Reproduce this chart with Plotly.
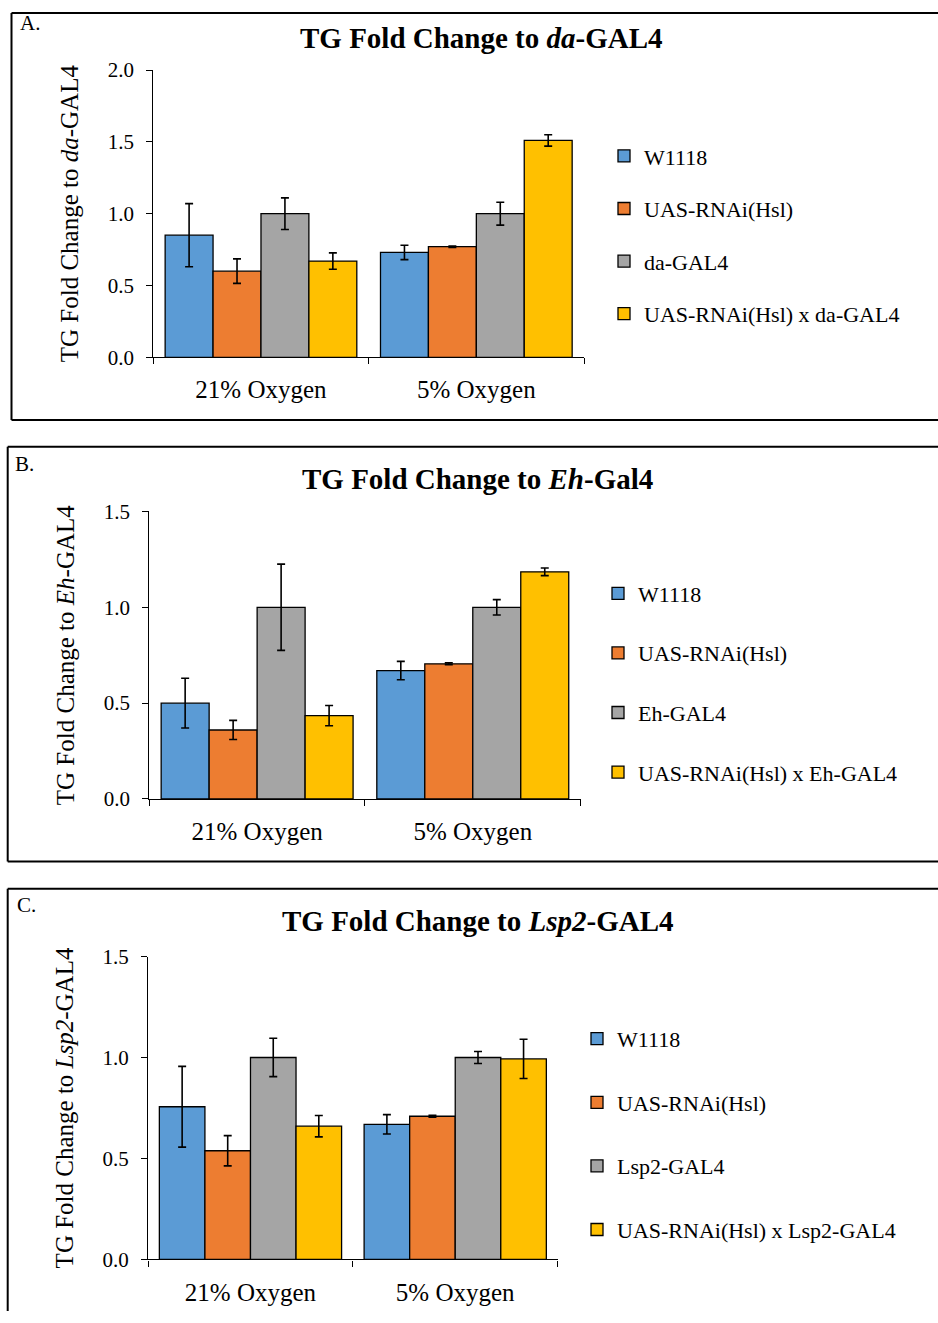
import plotly.graph_objects as go

W, H = 938, 1323
FONT = "Liberation Serif"

categories = ["21% Oxygen", "5% Oxygen"]
colors = ["#5B9BD5", "#ED7D31", "#A5A5A5", "#FFC000"]

# Panel A (da-GAL4)
a_names = ["W1118", "UAS-RNAi(Hsl)", "da-GAL4", "UAS-RNAi(Hsl) x da-GAL4"]
a_w1118 = [0.85, 0.73]
a_w1118_err = [0.22, 0.05]
a_uas = [0.60, 0.77]
a_uas_err = [0.085, 0.005]
a_gal4 = [1.00, 1.00]
a_gal4_err = [0.11, 0.08]
a_cross = [0.67, 1.51]
a_cross_err = [0.057, 0.04]

# Panel B (Eh-GAL4)
b_names = ["W1118", "UAS-RNAi(Hsl)", "Eh-GAL4", "UAS-RNAi(Hsl) x Eh-GAL4"]
b_w1118 = [0.50, 0.67]
b_w1118_err = [0.13, 0.048]
b_uas = [0.36, 0.705]
b_uas_err = [0.05, 0.005]
b_gal4 = [1.00, 1.00]
b_gal4_err = [0.225, 0.04]
b_cross = [0.435, 1.185]
b_cross_err = [0.053, 0.02]

# Panel C (Lsp2-GAL4)
c_names = ["W1118", "UAS-RNAi(Hsl)", "Lsp2-GAL4", "UAS-RNAi(Hsl) x Lsp2-GAL4"]
c_w1118 = [0.756, 0.669]
c_w1118_err = [0.2, 0.048]
c_uas = [0.538, 0.709]
c_uas_err = [0.075, 0.005]
c_gal4 = [1.00, 1.00]
c_gal4_err = [0.095, 0.03]
c_cross = [0.66, 0.993]
c_cross_err = [0.053, 0.097]


def px(x):
    return x / W


def py(y):
    # layout position (pixels from top, as measured on the target) -> paper fraction
    ys = (y - 13.0) / 0.981
    ys = min(max(ys, 1.0), H)
    return 1 - ys / H


panels = [
    dict(names=a_names, vals=[a_w1118, a_uas, a_gal4, a_cross],
         errs=[a_w1118_err, a_uas_err, a_gal4_err, a_cross_err],
         xax="x", yax="y", legend="legend"),
    dict(names=b_names, vals=[b_w1118, b_uas, b_gal4, b_cross],
         errs=[b_w1118_err, b_uas_err, b_gal4_err, b_cross_err],
         xax="x2", yax="y2", legend="legend2"),
    dict(names=c_names, vals=[c_w1118, c_uas, c_gal4, c_cross],
         errs=[c_w1118_err, c_uas_err, c_gal4_err, c_cross_err],
         xax="x3", yax="y3", legend="legend3"),
]

fig = go.Figure()
for p in panels:
    for i, (nm, v, e) in enumerate(zip(p["names"], p["vals"], p["errs"])):
        fig.add_trace(go.Bar(
            x=categories, y=v, name=nm,
            marker=dict(color=colors[i], line=dict(color="black", width=1.3)),
            error_y=dict(type="data", array=e, visible=True, color="black",
                         thickness=1.6, width=4),
            xaxis=p["xax"], yaxis=p["yax"], legend=p["legend"],
            legendgroup=p["legend"] + str(i),
        ))

# Axis geometry in pixels
geo = [
    dict(x0=153.3, x1=584.0, ytop=71.0, ybot=358.0, ymax=2.0,
         dtick=0.5, ytitle="TG Fold Change to <i>da</i>-GAL4"),
    dict(x0=149.3, x1=580.6, ytop=512.0, ybot=799.3, ymax=1.5,
         dtick=0.5, ytitle="TG Fold Change to <i>Eh</i>-GAL4"),
    dict(x0=148.1, x1=557.6, ytop=956.7, ybot=1259.3, ymax=1.5,
         dtick=0.5, ytitle="TG Fold Change to <i>Lsp2</i>-GAL4"),
]

layout = dict(
    width=W, height=H, margin=dict(l=0, r=0, t=0, b=0),
    paper_bgcolor="white", plot_bgcolor="white",
    barmode="group", bargap=0.11, bargroupgap=0,
    font=dict(family=FONT, color="black"),
)
suffixes = ["", "2", "3"]
for g, s in zip(geo, suffixes):
    layout["xaxis" + s] = dict(
        domain=[px(g["x0"]), px(g["x1"])], anchor="y" + s,
        showline=True, linecolor="black", linewidth=1.3,
        ticks="outside", ticklen=6, tickwidth=1.3, tickcolor="black",
        tickson="boundaries", showgrid=False, zeroline=False,
        tickfont=dict(family=FONT, size=25, color="black"),
        ticklabelstandoff=10,
        fixedrange=True,
    )
    layout["yaxis" + s] = dict(
        domain=[py(g["ybot"]), py(g["ytop"])], anchor="x" + s,
        range=[0, g["ymax"]], dtick=g["dtick"], tick0=0, tickformat=".1f",
        showline=True, linecolor="black", linewidth=1.3,
        ticks="outside", ticklen=6, tickwidth=1.3, tickcolor="black",
        showgrid=False, zeroline=False,
        tickfont=dict(family=FONT, size=21, color="black"),
        ticklabelstandoff=8,
        title=dict(text=g["ytitle"], font=dict(family=FONT, size=25, color="black"),
                   standoff=21),
        fixedrange=True,
    )

legend_common = dict(
    font=dict(family=FONT, size=22, color="black"),
    bgcolor="rgba(0,0,0,0)", borderwidth=0,
    xanchor="left", yanchor="top", traceorder="grouped",
    itemclick=False, itemdoubleclick=False,
)
layout["legend"] = dict(legend_common, x=px(604), y=py(136), tracegroupgap=21)
layout["legend2"] = dict(legend_common, x=px(598), y=py(573), tracegroupgap=28)
layout["legend3"] = dict(legend_common, x=px(577), y=py(1018), tracegroupgap=32)

fig.update_layout(**layout)

# Titles and panel labels
titles = [
    ("<b>TG Fold Change to <i>da</i>-GAL4</b>", 482, 39),
    ("<b>TG Fold Change to <i>Eh</i>-Gal4</b>", 478, 480),
    ("<b>TG Fold Change to <i>Lsp2</i>-GAL4</b>", 477.5, 921),
]
for t, x, y in titles:
    fig.add_annotation(text=t, x=px(x), y=py(y), xref="paper", yref="paper",
                       xanchor="center", yanchor="middle", showarrow=False,
                       font=dict(family=FONT, size=29, color="black"))

labels = [("A.", 18, 24), ("B.", 13, 465), ("C.", 15, 905)]
for t, x, y in labels:
    fig.add_annotation(text=t, x=px(x), y=py(y), xref="paper", yref="paper",
                       xanchor="left", yanchor="middle", showarrow=False,
                       font=dict(family=FONT, size=21, color="black"))

# Panel frames (open on the right; panel C also open at the bottom)
frames = [(11.5, 6.7, 420.7, True), (7.7, 447.3, 861.7, True), (7.7, 889.0, 1340.0, False)]
for x0, ytop, ybot, bottom in frames:
    segs = [(x0, ytop, W, ytop), (x0, ytop, x0, ybot)]
    if bottom:
        segs.append((x0, ybot, W, ybot))
    for xa, ya, xb, yb in segs:
        fig.add_shape(type="line", xref="paper", yref="paper",
                      x0=px(xa), x1=px(xb), y0=py(ya), y1=py(yb),
                      line=dict(color="black", width=2))

fig.write_html("out.html")
